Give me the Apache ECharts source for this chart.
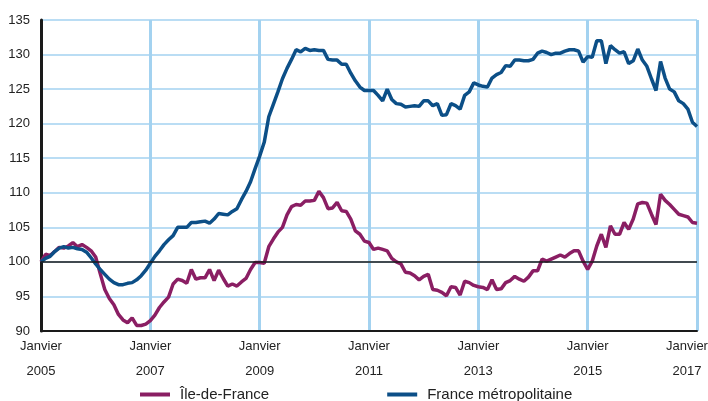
<!DOCTYPE html>
<html>
<head>
<meta charset="utf-8">
<script src="https://cdn.jsdelivr.net/npm/echarts@6/dist/echarts.min.js"></script>
<style>
  html, body { margin: 0; padding: 0; background: #fff; }
  #main { width: 708px; height: 401px; }
</style>
</head>
<body>
<div id="main"></div>
<script>
// indices mensuels, janvier 2005 = 100 (janvier 2005 -> janvier 2017)
var idfValues = [
  100.0, 101.1, 100.9, 101.5, 102.1, 102.0, 102.3, 102.8, 102.2, 102.5, 102.1, 101.6,
  100.7, 98.3, 96.0, 94.7, 93.8, 92.4, 91.6, 91.2, 91.9, 90.8, 90.8, 91.0,
  91.5, 92.3, 93.4, 94.2, 94.9, 96.8, 97.5, 97.3, 96.9, 98.9, 97.5, 97.7,
  97.7, 98.9, 97.3, 98.8, 97.6, 96.5, 96.8, 96.5, 97.1, 97.6, 98.9, 99.9,
  99.9, 99.8, 102.2, 103.3, 104.3, 105.0, 106.8, 108.0, 108.3, 108.2, 108.8, 108.8,
  108.9, 110.2, 109.3, 107.7, 107.8, 108.6, 107.4, 107.3, 106.2, 104.5, 104.0, 103.0,
  102.8, 101.8, 102.0, 101.8, 101.6, 100.5, 100.0, 99.7, 98.5, 98.4, 98.0, 97.4,
  97.9, 98.2, 96.0, 95.9, 95.6, 95.1, 96.4, 96.3, 95.2, 97.2, 97.0, 96.6,
  96.4, 96.3, 96.0, 97.4, 96.0, 96.1, 97.0, 97.3, 97.9, 97.5, 97.2, 97.8,
  98.7, 98.7, 100.4, 100.1, 100.4, 100.7, 101.0, 100.7, 101.2, 101.6, 101.6, 100.1,
  98.9, 100.1, 102.3, 104.0, 102.1, 105.2, 104.0, 104.0, 105.7, 104.7, 106.2, 108.4,
  108.6, 108.5, 106.9, 105.4, 109.8, 108.9, 108.3, 107.6, 106.9, 106.7, 106.5, 105.7,
  105.6
];
var franceValues = [
  100.0, 100.5, 100.8, 101.5, 102.0, 102.2, 102.0, 102.1, 101.9, 101.8, 101.4, 100.6,
  99.7, 98.9, 98.2, 97.5, 97.0, 96.7, 96.7, 96.9, 97.0, 97.4, 98.0, 98.8,
  99.8, 100.8, 101.6, 102.5, 103.2, 103.8, 105.0, 105.0, 105.0, 105.7, 105.7, 105.8,
  105.9, 105.6, 106.2, 107.0, 106.9, 106.8, 107.3, 107.7, 109.0, 110.2, 111.6, 113.5,
  115.3, 117.3, 121.0, 122.8, 124.6, 126.5, 128.0, 129.3, 130.7, 130.4, 130.9, 130.6,
  130.7, 130.6, 130.6, 129.3, 129.2, 129.2, 128.6, 128.6, 127.3, 126.2, 125.3, 124.8,
  124.8, 124.8, 124.1, 123.3, 125.0, 123.5, 122.9, 122.8, 122.4, 122.5, 122.6, 122.5,
  123.3, 123.3, 122.6, 122.9, 121.2, 121.3, 122.9, 122.6, 122.1, 124.1, 124.6, 125.9,
  125.6, 125.4, 125.3, 126.6, 127.1, 127.4, 128.4, 128.3, 129.2, 129.2, 129.1, 129.1,
  129.3, 130.2, 130.5, 130.3, 130.0, 130.2, 130.2, 130.5, 130.7, 130.7, 130.5, 128.9,
  129.7, 129.6, 132.0, 132.0, 128.7, 131.3, 130.7, 130.2, 130.4, 128.7, 129.1, 130.8,
  129.2, 128.3, 126.5, 124.8, 129.0, 126.6, 125.0, 124.6, 123.3, 122.9, 122.1, 120.2,
  119.6
];
var xLabels = ['Janvier\n2005', 'Janvier\n2007', 'Janvier\n2009', 'Janvier\n2011',
               'Janvier\n2013', 'Janvier\n2015', 'Janvier\n2017'];
var seriesNames = ['Île-de-France', 'France métropolitaine'];
var colors = ['#8a1e63', '#0c4f87'];

function toPoints(arr) {
    var out = [];
    for (var i = 0; i < arr.length; i++) {
        out.push([i, arr[i]]);
    }
    return out;
}

var gridBlue = '#a3d2f0';
var font = '"Liberation Sans", Arial, sans-serif';

var myChart = echarts.init(document.getElementById('main'));
myChart.setOption({
    animation: false,
    grid: { left: 41, right: 11, top: 20, bottom: 70, containLabel: false, outerBoundsMode: 'none' },
    legend: {
        data: seriesNames,
        left: 135,
        top: 382,
        icon: 'rect',
        itemWidth: 30,
        itemHeight: 4,
        itemGap: 118,
        textStyle: { fontFamily: font, fontSize: 15, color: '#222', padding: [0, 0, 0, 5] }
    },
    xAxis: {
        type: 'value',
        min: 0,
        max: 144,
        interval: 24,
        axisLine: { lineStyle: { color: '#1a1a1a', width: 2 } },
        axisTick: { show: false },
        splitLine: { show: true, showMinLine: false, lineStyle: { color: gridBlue, width: 3 } },
        axisLabel: {
            margin: 3,
            fontFamily: font,
            fontSize: 13,
            lineHeight: 25,
            color: '#222',
            formatter: function (v) {
                var i = Math.round(v / 24);
                // le dernier libellé est décalé vers la gauche pour rester dans le cadre
                if (i === xLabels.length - 1) {
                    return xLabels[i].split('\n').map(function (s) { return '{end|' + s + '}'; }).join('\n');
                }
                return xLabels[i];
            },
            rich: {
                end: { fontFamily: font, fontSize: 13, lineHeight: 25, color: '#222', padding: [0, 20, 0, 0] }
            }
        }
    },
    yAxis: {
        type: 'value',
        min: 90,
        max: 135,
        interval: 5,
        axisLine: { show: true, lineStyle: { color: '#1a1a1a', width: 3 } },
        axisTick: { show: false },
        splitLine: { show: true, showMinLine: false, lineStyle: { color: gridBlue, width: 1.5 } },
        axisLabel: { margin: 11, fontFamily: font, fontSize: 13, color: '#222' }
    },
    series: [{
        name: seriesNames[0],
        type: 'line',
        data: toPoints(idfValues),
        symbol: 'none',
        lineStyle: { color: colors[0], width: 3.5 },
        itemStyle: { color: colors[0] },
        markLine: {
            silent: true,
            symbol: 'none',
            label: { show: false },
            lineStyle: { color: '#1a1a1a', width: 1.5, type: 'solid' },
            data: [{ yAxis: 100 }]
        }
    }, {
        name: seriesNames[1],
        type: 'line',
        data: toPoints(franceValues),
        symbol: 'none',
        lineStyle: { color: colors[1], width: 3.5 },
        itemStyle: { color: colors[1] }
    }]
});
</script>
</body>
</html>
